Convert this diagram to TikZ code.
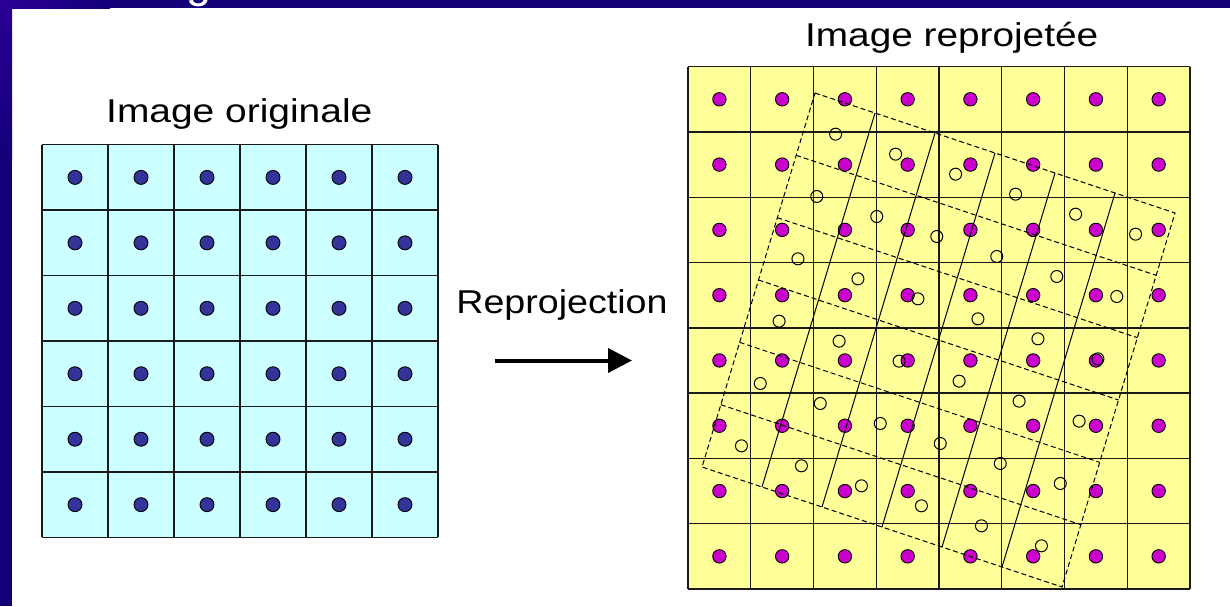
\documentclass[tikz,border=0pt]{standalone}
\usepackage{fontspec}
\setmainfont{Liberation Sans}
\usetikzlibrary{arrows.meta,calc}
\definecolor{navy}{HTML}{130078}
\definecolor{purp}{HTML}{2A0096}
\definecolor{cyanfill}{HTML}{CCFFFF}
\definecolor{yellowfill}{HTML}{FFFF99}
\definecolor{bluedot}{HTML}{333399}
\definecolor{magdot}{HTML}{CC00CC}
\definecolor{gridline}{HTML}{1A1A1A}
\tikzset{
  gridl/.style={draw=gridline, line width=1.4pt},
  bdot/.style={fill=bluedot, draw=black, line width=0.9pt},
  mdot/.style={fill=magdot, draw=black, line width=0.9pt},
  rotdash/.style={draw=black, line width=1pt, dash pattern=on 5pt off 3pt},
  rotsolid/.style={draw=black, line width=1pt},
  ring/.style={draw=black, line width=1pt},
  lbl/.style={font=\fontsize{33}{40}\selectfont, inner sep=0pt, anchor=base},
  bigarrow/.style={line width=4pt, -{Triangle[length=24pt,width=24pt]}}
}
\begin{document}
\begin{tikzpicture}[x=1pt,y=-1pt]
\useasboundingbox (0,0) rectangle (1230,606);
\fill[white] (0,0) rectangle (1230,606);
% slide bands
\fill[navy] (0,0) rectangle (1230,8);
\fill[navy] (0,0) rectangle (12,606);
\shade[left color=purp, right color=navy] (0,0) rectangle (110,8);
\shade[top color=purp, bottom color=navy] (0,0) rectangle (12,160);
\begin{scope}
  \clip (0,0) rectangle (1230,8);
  \node[white, font=\fontsize{45}{50}\selectfont, anchor=base, inner sep=0pt] (titleg) at (199,-3) {g};
\end{scope}

% left grid (original image)
\fill[cyanfill] (42,144.7) rectangle (438,537.4);
\foreach \i in {0,...,6} \draw[gridl] (42+66*\i,144.7) -- (42+66*\i,537.4);
\foreach \j in {0,...,6} \draw[gridl] (42,144.7+65.45*\j) -- (438,144.7+65.45*\j);
\foreach \i in {0,...,5} \foreach \j in {0,...,5}
  \draw[bdot] (75+66*\i,177.4+65.45*\j) circle (7pt);

% right grid (reprojected image)
\fill[yellowfill] (688,66.7) rectangle (1190,589);
\foreach \i in {0,...,8} \draw[gridl] (688+62.75*\i,66.7) -- (688+62.75*\i,589);
\foreach \j in {0,...,8} \draw[gridl] (688,66.7+65.29*\j) -- (1190,66.7+65.29*\j);
\foreach \i in {0,...,7} \foreach \j in {0,...,7}
  \draw[mdot] (719.4+62.75*\i,99.3+65.29*\j) circle (6.7pt);

% rotated original grid
\coordinate (TL) at (815,93);
\coordinate (TR) at (1175,213);
\coordinate (BR) at (1062,587);
\coordinate (BL) at (702,467);
\draw[rotdash] (TL) -- (TR) -- (BR) -- (BL) -- cycle;
\foreach \k in {1,...,5} {
  \draw[rotdash] ($(TL)!{\k/6}!(BL)$) -- ($(TR)!{\k/6}!(BR)$);
  \draw[rotsolid] ($(TL)!{\k/6}!(TR)$) -- ($(BL)!{\k/6}!(BR)$);
}
\foreach \i in {0,...,5} \foreach \j in {0,...,5}
  \draw[ring] ({815+(\i+0.5)*60-(\j+0.5)*18.83},{93+(\i+0.5)*20+(\j+0.5)*62.33}) circle (6pt);

% labels
\node[lbl] (orig) at (239.3,122.3) {\scalebox{1.18}[1]{Image originale}};
\node[lbl] (repr) at (951.7,46.7) {\scalebox{1.175}[1]{Image reprojetée}};
\node[lbl] (proj) at (562,313.3) {\scalebox{1.14}[1]{Reprojection}};

% arrow
\coordinate (a1) at (495,360.5);
\coordinate (a2) at (632,360.5);
\draw[bigarrow] (a1) -- (a2);
\end{tikzpicture}
\end{document}
